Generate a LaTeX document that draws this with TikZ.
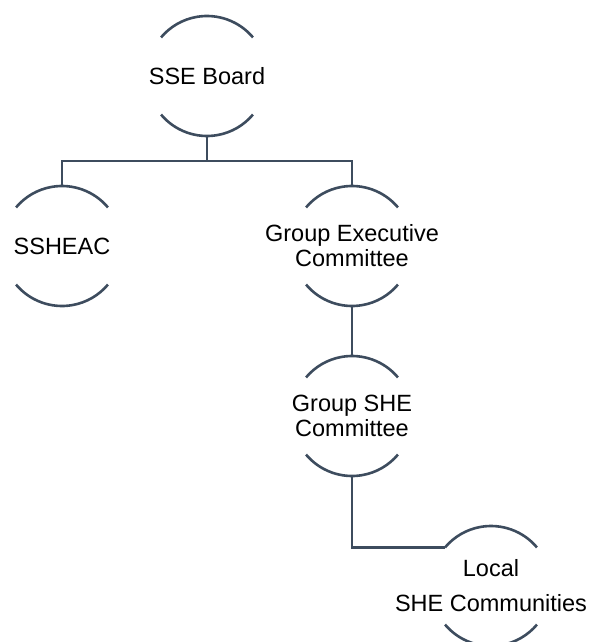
\documentclass[tikz,border=0pt]{standalone}
\usepackage{fontspec}
\setmainfont{Liberation Sans}
\usepackage{xcolor}
\usetikzlibrary{positioning}
\definecolor{linegray}{RGB}{61,76,94}

\begin{document}
\begin{tikzpicture}[node distance=85pt, on grid,
  member/.style={circle, minimum size=60pt, inner sep=0pt, outer sep=0pt},
  link/.style={draw=linegray, line width=1.3pt},
  every label/.style={align=center, inner sep=0pt, font=\fontsize{11.75}{12.5}\selectfont}]
  \useasboundingbox (-103.5pt,38pt) rectangle (191pt,-283pt);

  \node [member, label={center:SSE Board}] (board) at (0,0) {};
  \node [member, label={center:SSHEAC}] (ssheac) [below left=85pt and 72.5pt of board] {};
  \node [member, label={center:Group Executive\\Committee}] (gec) [below right=85pt and 72.5pt of board] {};
  \node [member, label={center:Group SHE\\Committee}] (gshe) [below=of gec] {};
  \node [member, label={center:Local\\[5pt]SHE Communities}] (local) [below right=85pt and 69.5pt of gshe] {};

  % open arcs above and below each member
  \foreach \n in {board, ssheac, gec, gshe, local} {
    \draw [link] (\n.40) arc [start angle=40, end angle=140, radius=30pt];
    \draw [link] (\n.220) arc [start angle=220, end angle=320, radius=30pt];
  }

  \draw [link] (board.south) -- ++(0,-12.5pt) -| (ssheac.north);
  \draw [link] (board.south) -- ++(0,-12.5pt) -| (gec.north);
  \draw [link] (gec.south) -- (gshe.north);
  \draw [link] (gshe.south) |- (local.140);
\end{tikzpicture}
\end{document}
